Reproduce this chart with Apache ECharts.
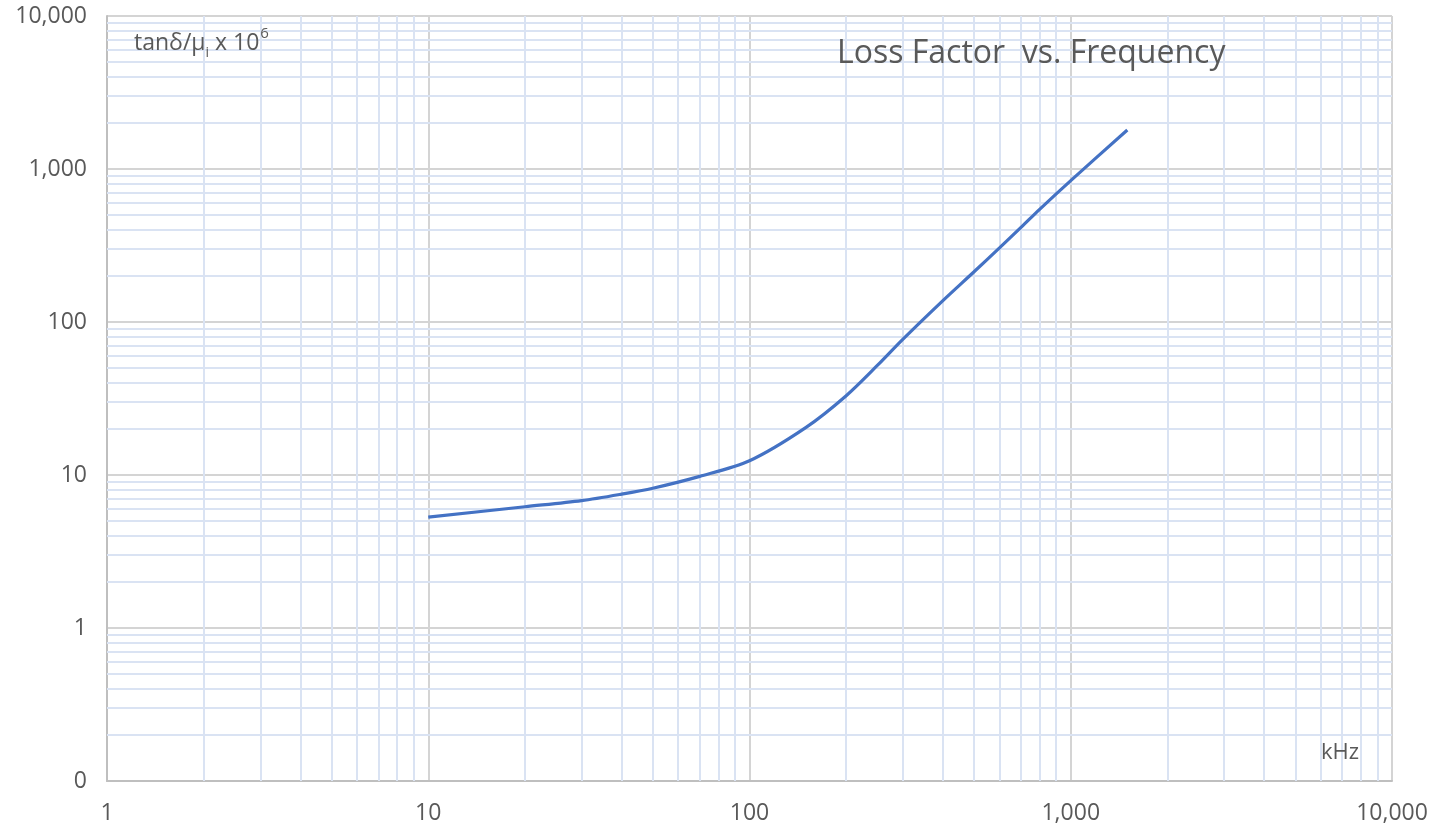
<!DOCTYPE html>
<html>
<head>
<meta charset="utf-8">
<script src="https://cdn.jsdelivr.net/npm/echarts@6/dist/echarts.min.js"></script>
<style>html,body{margin:0;padding:0;background:#fff}#c{width:1447px;height:833px}</style>
</head>
<body>
<div id="c"></div>
<script>
// Data (frequency in kHz, tanδ/μi x 10^6)
const freqKHz = [10, 20, 30, 40, 50, 70, 100, 150, 200, 250, 300, 400, 500, 600, 700, 800, 1000, 1500];
const lossFactor = [5.3, 6.2, 6.8, 7.5, 8.2, 9.8, 12.4, 20.5, 33, 52, 77, 138, 213, 305, 415, 545, 840, 1800];
const xDecades = [1, 10, 100, 1000];
const yDecades = [0.1, 1, 10, 100, 1000];
const minorMultipliers = [2, 3, 4, 5, 6, 7, 8, 9];

const minorX = [];
xDecades.forEach(d => minorMultipliers.forEach(m => minorX.push(+(d * m).toPrecision(6))));
const minorY = [];
yDecades.forEach(d => minorMultipliers.forEach(m => minorY.push(+(d * m).toPrecision(6))));

const fmt = v => (v < 1 ? '0' : Number(v).toLocaleString('en-US'));
const FONT = 'Open Sans';
const TXT = '#595959';

const chart = echarts.init(document.getElementById('c'), null, {renderer: 'canvas'});
chart.setOption({
  animation: false,
  backgroundColor: '#ffffff',
  textStyle: {fontFamily: FONT},
  grid: {left: 107, right: 55, top: 16, bottom: 52, containLabel: false},
  xAxis: {
    type: 'log', logBase: 10, min: 1, max: 10000,
    axisLine: {show: true, lineStyle: {color: '#bfbfbf', width: 2}},
    axisTick: {show: false},
    axisLabel: {formatter: fmt, color: TXT, fontSize: 23, fontFamily: FONT, margin: 21},
    splitLine: {show: true, lineStyle: {color: '#d4d4d4', width: 2}}
  },
  yAxis: {
    type: 'log', logBase: 10, min: 0.1, max: 10000,
    axisLine: {show: true, lineStyle: {color: '#bfbfbf', width: 2}},
    axisTick: {show: false},
    axisLabel: {formatter: fmt, color: TXT, fontSize: 23, fontFamily: FONT, margin: 20},
    splitLine: {show: true, lineStyle: {color: '#d4d4d4', width: 2}}
  },
  series: [
    {
      type: 'line', data: [], silent: true, z: 1,
      markLine: {
        silent: true, symbol: ['none', 'none'], label: {show: false},
        lineStyle: {color: '#dae3f3', width: 2, type: 'solid'},
        emphasis: {disabled: true},
        data: minorX.map(v => ({xAxis: v})).concat(minorY.map(v => ({yAxis: v})))
      }
    },
    {
      type: 'line', z: 5,
      data: freqKHz.map((f, i) => [f, lossFactor[i]]),
      smooth: 0.3, showSymbol: false, symbol: 'none',
      lineStyle: {color: '#4472c4', width: 3.2}
    }
  ],
  graphic: [
    {type: 'text', left: 837, top: 38, z: 10,
      style: {text: 'Loss Factor  vs. Frequency', fill: TXT, font: '32px "' + FONT + '"'}},
    {type: 'text', left: 1321, top: 742, z: 10,
      style: {text: 'kHz', fill: TXT, font: '22px "' + FONT + '"'}},
    {type: 'text', left: 134, top: 26, z: 10,
      style: {
        text: '{a|tanδ/μ}{s|i}{a| x 10}{p|6}',
        rich: {
          a: {fill: TXT, fontSize: 23, fontFamily: FONT, lineHeight: 34, verticalAlign: 'middle'},
          s: {fill: TXT, fontSize: 14, fontFamily: FONT, lineHeight: 17, verticalAlign: 'bottom'},
          p: {fill: TXT, fontSize: 15, fontFamily: FONT, lineHeight: 17, verticalAlign: 'top', padding: [0, 0, 0, 1]}
        }
      }}
  ]
});
</script>
</body>
</html>
